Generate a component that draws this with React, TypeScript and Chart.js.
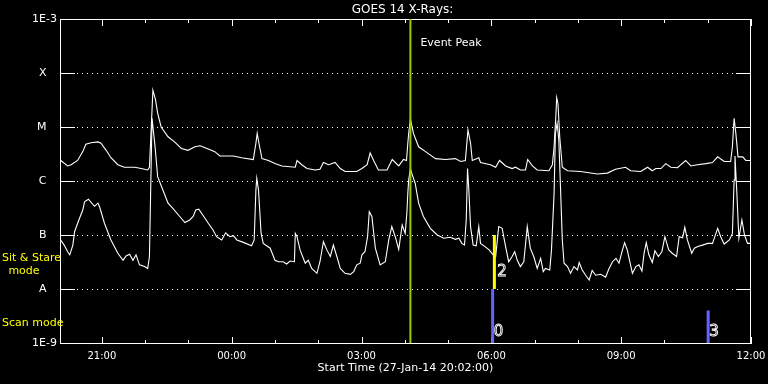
import React, { useEffect, useRef } from "react";
import { Chart, registerables } from "chart.js";

Chart.register(...registerables);

// ---- axes ----
const startHour = 20.0333; // 27-Jan-14 20:02:00 (hours from 27-Jan 00:00)
const endHour = 36.0; // 28-Jan 12:00
const xTickHours = [21, 24, 27, 30, 33, 36];
const xTickLabels = ["21:00", "00:00", "03:00", "06:00", "09:00", "12:00"];
const hourMarks = [21, 22, 23, 24, 25, 26, 27, 28, 29, 30, 31, 32, 33, 34, 35, 36];
const yTickValues = [1e-9, 1e-8, 1e-7, 1e-6, 1e-5, 1e-4, 1e-3];
const yTickLabels = ["1E-9", "A", "B", "C", "M", "X", "1E-3"];
const gridLevels = [1e-8, 1e-7, 1e-6, 1e-5, 1e-4];

// ---- GOES long channel (1-8 A) ----
const longTimes = [
  20.05, 20.21, 20.29, 20.44, 20.56, 20.63, 20.75, 20.91, 20.98, 21.10,
  21.21, 21.37, 21.52, 21.76, 21.91, 22.06, 22.10, 22.18, 22.24, 22.29,
  22.37, 22.53, 22.68, 22.80, 22.84, 22.99, 23.15, 23.27, 23.46, 23.61,
  23.73, 23.85, 24.04, 24.23, 24.50, 24.56, 24.59, 24.63, 24.70, 24.85,
  25.00, 25.16, 25.47, 25.51, 25.62, 25.74, 25.93, 26.04, 26.12, 26.24,
  26.39, 26.51, 26.62, 26.89, 27.01, 27.13, 27.20, 27.28, 27.39, 27.59,
  27.71, 27.86, 27.97, 28.04, 28.07, 28.09, 28.13, 28.20, 28.32, 28.48,
  28.71, 28.94, 29.17, 29.29, 29.40, 29.46, 29.52, 29.56, 29.71, 29.75,
  29.98, 30.10, 30.19, 30.33, 30.48, 30.56, 30.67, 30.79, 30.84, 30.95,
  31.06, 31.33, 31.41, 31.45, 31.49, 31.51, 31.54, 31.58, 31.64, 31.76,
  32.06, 32.45, 32.68, 32.87, 33.10, 33.22, 33.45, 33.61, 33.72, 33.80,
  33.92, 34.03, 34.15, 34.30, 34.49, 34.61, 34.76, 34.96, 35.11, 35.23,
  35.38, 35.53, 35.57, 35.61, 35.65, 35.70, 35.81, 35.88, 36.00,
];
const longFlux = [
  2.4e-6, 1.9e-6, 2.0e-6, 2.4e-6, 3.5e-6, 4.8e-6, 5.1e-6, 5.3e-6, 5.0e-6, 3.7e-6,
  2.7e-6, 2.0e-6, 1.8e-6, 1.8e-6, 1.7e-6, 1.6e-6, 1.8e-6, 4.8e-5, 3.2e-5, 1.8e-5,
  1.0e-5, 6.6e-6, 5.3e-6, 4.3e-6, 4.0e-6, 3.7e-6, 4.3e-6, 4.5e-6, 3.9e-6, 3.5e-6,
  2.9e-6, 2.9e-6, 2.9e-6, 2.7e-6, 2.5e-6, 5.0e-6, 7.6e-6, 5.0e-6, 2.6e-6, 2.4e-6,
  2.1e-6, 1.9e-6, 1.8e-6, 2.4e-6, 2.0e-6, 1.7e-6, 1.6e-6, 1.65e-6, 2.2e-6, 2.0e-6,
  2.2e-6, 1.7e-6, 1.5e-6, 1.5e-6, 1.7e-6, 2.0e-6, 3.3e-6, 2.4e-6, 1.6e-6, 1.6e-6,
  2.5e-6, 1.9e-6, 2.5e-6, 2.4e-6, 5.0e-6, 7.6e-6, 1.4e-5, 7.6e-6, 4.3e-6, 3.5e-6,
  2.6e-6, 2.5e-6, 2.6e-6, 2.3e-6, 2.4e-6, 8.8e-6, 5.0e-6, 2.4e-6, 2.7e-6, 2.2e-6,
  2.0e-6, 1.8e-6, 2.4e-6, 1.9e-6, 1.7e-6, 1.8e-6, 1.6e-6, 1.6e-6, 2.5e-6, 1.9e-6,
  1.6e-6, 1.55e-6, 2.0e-6, 4.3e-6, 1.55e-5, 3.5e-5, 2.7e-5, 6.6e-6, 1.8e-6, 1.55e-6,
  1.5e-6, 1.35e-6, 1.4e-6, 1.65e-6, 1.8e-6, 1.55e-6, 1.5e-6, 1.8e-6, 1.55e-6, 1.7e-6,
  1.7e-6, 2.1e-6, 1.8e-6, 1.76e-6, 2.4e-6, 1.9e-6, 2.0e-6, 2.1e-6, 2.2e-6, 2.8e-6,
  2.3e-6, 2.3e-6, 4.3e-6, 1.45e-5, 7.6e-6, 2.8e-6, 2.8e-6, 2.4e-6, 2.4e-6,
];

// ---- GOES short channel (0.5-4 A) ----
const shortTimes = [
  20.05, 20.13, 20.21, 20.26, 20.33, 20.37, 20.48, 20.56, 20.60, 20.69,
  20.83, 20.91, 20.95, 21.06, 21.21, 21.37, 21.49, 21.56, 21.64, 21.72,
  21.79, 21.87, 21.99, 22.06, 22.10, 22.16, 22.23, 22.29, 22.41, 22.53,
  22.64, 22.80, 22.92, 23.03, 23.11, 23.17, 23.24, 23.34, 23.46, 23.57,
  23.65, 23.77, 23.86, 23.96, 24.04, 24.12, 24.27, 24.46, 24.52, 24.56,
  24.58, 24.62, 24.68, 24.73, 24.89, 25.00, 25.08, 25.19, 25.27, 25.35,
  25.45, 25.47, 25.51, 25.58, 25.70, 25.77, 25.85, 25.97, 26.04, 26.12,
  26.20, 26.28, 26.35, 26.43, 26.51, 26.62, 26.74, 26.82, 26.89, 26.97,
  27.01, 27.08, 27.14, 27.18, 27.24, 27.32, 27.43, 27.55, 27.63, 27.70,
  27.78, 27.86, 27.94, 28.01, 28.05, 28.07, 28.09, 28.13, 28.16, 28.24,
  28.32, 28.43, 28.59, 28.75, 28.90, 29.05, 29.17, 29.25, 29.32, 29.38,
  29.42, 29.45, 29.48, 29.52, 29.58, 29.65, 29.71, 29.75, 29.83, 29.95,
  30.04, 30.10, 30.17, 30.25, 30.33, 30.40, 30.48, 30.54, 30.60, 30.67,
  30.75, 30.83, 30.90, 30.98, 31.06, 31.14, 31.20, 31.25, 31.35, 31.39,
  31.45, 31.48, 31.52, 31.56, 31.60, 31.64, 31.68, 31.76, 31.83, 31.91,
  31.99, 32.03, 32.10, 32.18, 32.26, 32.33, 32.41, 32.53, 32.64, 32.72,
  32.80, 32.88, 32.95, 33.03, 33.08, 33.14, 33.26, 33.34, 33.41, 33.48,
  33.53, 33.58, 33.64, 33.72, 33.78, 33.86, 33.94, 34.01, 34.10, 34.18,
  34.28, 34.34, 34.42, 34.47, 34.53, 34.63, 34.69, 34.77, 34.88, 35.00,
  35.11, 35.23, 35.30, 35.38, 35.50, 35.57, 35.61, 35.63, 35.67, 35.72,
  35.79, 35.85, 35.92, 36.00,
];
const shortFlux = [
  8.1e-8, 6.5e-8, 4.9e-8, 4.3e-8, 6.5e-8, 1.15e-7, 2.0e-7, 2.9e-7, 4.1e-7, 4.6e-7,
  3.4e-7, 3.9e-7, 3.3e-7, 1.65e-7, 8.1e-8, 4.6e-8, 3.4e-8, 4.1e-8, 4.4e-8, 3.4e-8,
  4.3e-8, 2.8e-8, 2.6e-8, 2.4e-8, 4.0e-8, 1.45e-5, 4.3e-6, 1.2e-6, 6.8e-7, 3.9e-7,
  3.1e-7, 2.2e-7, 1.7e-7, 1.9e-7, 2.2e-7, 2.9e-7, 3.0e-7, 2.3e-7, 1.65e-7, 1.24e-7,
  9.3e-8, 8.1e-8, 1.1e-7, 9.3e-8, 9.7e-8, 8.1e-8, 7.3e-8, 6.3e-8, 8.1e-8, 6.8e-7,
  1.12e-6, 6.8e-7, 1.07e-7, 7.0e-8, 5.7e-8, 3.4e-8, 3.2e-8, 3.2e-8, 2.9e-8, 3.3e-8,
  3.2e-8, 1.07e-7, 9.3e-8, 5.3e-8, 3.0e-8, 3.4e-8, 2.4e-8, 1.95e-8, 3.2e-8, 7.5e-8,
  5.3e-8, 4.0e-8, 6.5e-8, 4.0e-8, 2.4e-8, 1.95e-8, 1.87e-8, 2.1e-8, 2.8e-8, 3.0e-8,
  4.3e-8, 4.9e-8, 9.3e-8, 2.7e-7, 2.2e-7, 5.7e-8, 2.8e-8, 3.2e-8, 8.1e-8, 1.43e-7,
  9.3e-8, 5.4e-8, 1.53e-7, 1.07e-7, 2.7e-7, 5.9e-7, 1.04e-6, 1.7e-6, 1.4e-6, 9.1e-7,
  3.9e-7, 2.2e-7, 1.33e-7, 1.0e-7, 8.7e-8, 9.1e-8, 8.3e-8, 8.7e-8, 7.0e-8, 6.5e-8,
  1.9e-7, 1.7e-6, 6.8e-7, 1.43e-7, 6.5e-8, 6.3e-8, 1.43e-7, 7.0e-8, 6.3e-8, 5.3e-8,
  4.3e-8, 4.0e-8, 1.43e-7, 1.33e-7, 6.1e-8, 3.2e-8, 4.0e-8, 4.9e-8, 3.4e-8, 2.6e-8,
  3.2e-8, 1.43e-7, 5.7e-8, 4.0e-8, 2.4e-8, 3.7e-8, 2.1e-8, 2.4e-8, 2.25e-8, 5.3e-8,
  5.9e-7, 7.6e-6, 1.17e-5, 5.7e-6, 6.8e-7, 8.1e-8, 3.0e-8, 2.6e-8, 1.95e-8, 2.6e-8,
  2.25e-8, 3.1e-8, 2.25e-8, 1.8e-8, 1.47e-8, 2.2e-8, 1.8e-8, 1.87e-8, 1.65e-8, 2.4e-8,
  3.2e-8, 3.7e-8, 3.0e-8, 5.3e-8, 7.2e-8, 5.3e-8, 1.95e-8, 2.6e-8, 2.8e-8, 2.15e-8,
  4.6e-8, 7.2e-8, 4.3e-8, 3.1e-8, 5.1e-8, 4.0e-8, 4.9e-8, 9.3e-8, 5.3e-8, 4.6e-8,
  4.0e-8, 9.3e-8, 8.9e-8, 1.39e-7, 8.1e-8, 4.6e-8, 5.7e-8, 6.1e-8, 6.5e-8, 7.0e-8,
  7.0e-8, 1.33e-7, 9.3e-8, 6.8e-8, 8.1e-8, 1.07e-7, 1.04e-6, 2.9e-6, 6.8e-7, 8.7e-8,
  1.9e-7, 1.0e-7, 7.0e-8, 7.0e-8,
];

// ---- event & observation markers ----
const eventPeakTime = 28.13;
const stareTimes = [30.07];
const stareTop = [1e-7];
const stareBottom = [1e-8];
const stareLabels = ["2"];
const scanTimes = [30.03, 35.01];
const scanTop = [1e-8, 4e-9];
const scanBottom = [1e-9, 1e-9];
const scanLabels = ["0", "3"];

const FONT = "'DejaVu Sans', sans-serif";
const GREEN = "#9acd00";
const YELLOW = "#ffff00";
const BLUE = "#6464ff";

const zip = (xs: number[], ys: number[]) => xs.map((x, i) => ({ x, y: ys[i] }));

const decorPlugin = {
  id: "goesDecor",
  beforeDatasetsDraw(chart: any) {
    const { ctx, chartArea, scales } = chart;
    const { left, right, top, bottom } = chartArea;
    const xs = scales.x;
    const ys = scales.y;
    ctx.save();
    ctx.strokeStyle = "#ffffff";
    ctx.lineWidth = 1;
    // dotted grid
    ctx.setLineDash([1, 4]);
    for (const v of gridLevels) {
      const py = Math.round(ys.getPixelForValue(v)) + 0.5;
      ctx.beginPath();
      ctx.moveTo(left + 2, py);
      ctx.lineTo(right - 2, py);
      ctx.stroke();
    }
    ctx.setLineDash([]);
    // frame
    ctx.strokeRect(left + 0.5, top + 0.5, right - left - 1, bottom - top);
    // hour ticks (inward)
    ctx.beginPath();
    for (const h of hourMarks) {
      const px = Math.round(xs.getPixelForValue(h)) + 0.5;
      const len = xTickHours.includes(h) ? 7 : 4;
      ctx.moveTo(px, top);
      ctx.lineTo(px, top + len);
      ctx.moveTo(px, bottom + 1);
      ctx.lineTo(px, bottom + 1 - len);
    }
    // decade ticks (inward)
    for (const v of gridLevels) {
      const py = Math.round(ys.getPixelForValue(v)) + 0.5;
      ctx.moveTo(left, py);
      ctx.lineTo(left + 15, py);
      ctx.moveTo(right - 15, py);
      ctx.lineTo(right, py);
    }
    ctx.stroke();
    ctx.restore();
  },
  afterDatasetsDraw(chart: any) {
    const { ctx, chartArea, scales } = chart;
    const { left, right, top } = chartArea;
    const xs = scales.x;
    const ys = scales.y;
    ctx.save();
    ctx.textBaseline = "middle";
    // title
    ctx.fillStyle = "#ffffff";
    ctx.font = `12px ${FONT}`;
    ctx.textAlign = "center";
    ctx.fillText("GOES 14 X-Rays:", (left + right) / 2 - 3, 10);
    // event peak label
    ctx.font = `11px ${FONT}`;
    ctx.textAlign = "left";
    ctx.fillText("Event Peak", xs.getPixelForValue(eventPeakTime) + 10, top + 24);
    // mode labels
    ctx.fillStyle = YELLOW;
    ctx.fillText("Sit & Stare", 2, ys.getPixelForValue(1e-8) - 31);
    ctx.textAlign = "center";
    ctx.fillText("mode", 24, ys.getPixelForValue(1e-8) - 18);
    ctx.textAlign = "left";
    ctx.fillText("Scan mode", 2, ys.getPixelForValue(1e-9) - 20);
    // marker numbers (outlined digits)
    ctx.strokeStyle = "#ffffff";
    ctx.lineWidth = 0.9;
    ctx.font = `15px ${FONT}`;
    stareLabels.forEach((t, i) => {
      ctx.strokeText(t, xs.getPixelForValue(stareTimes[i]) + 3, ys.getPixelForValue(stareBottom[i]) - 17);
    });
    scanLabels.forEach((t, i) => {
      ctx.strokeText(t, xs.getPixelForValue(scanTimes[i]) + 1, ys.getPixelForValue(scanBottom[i]) - 11);
    });
    ctx.restore();
  },
};

export default function App() {
  const canvasRef = useRef<HTMLCanvasElement | null>(null);

  useEffect(() => {
    document.body.style.margin = "0";
    document.body.style.background = "#000";
    const canvas = canvasRef.current;
    if (!canvas) return;

    const lineBase = { pointRadius: 0, tension: 0, fill: false, borderJoinStyle: "miter" as const };

    const datasets: any[] = [
      {
        label: "Event Peak",
        data: [
          { x: eventPeakTime, y: 1e-3 },
          { x: eventPeakTime, y: 1e-9 },
        ],
        borderColor: GREEN,
        borderWidth: 2,
        ...lineBase,
      },
      ...stareTimes.map((t, i) => ({
        label: "Sit & Stare " + stareLabels[i],
        data: [
          { x: t, y: stareTop[i] },
          { x: t, y: stareBottom[i] },
        ],
        borderColor: YELLOW,
        borderWidth: 3,
        ...lineBase,
      })),
      ...scanTimes.map((t, i) => ({
        label: "Scan " + scanLabels[i],
        data: [
          { x: t, y: scanTop[i] },
          { x: t, y: scanBottom[i] },
        ],
        borderColor: BLUE,
        borderWidth: 3,
        ...lineBase,
      })),
      {
        label: "1-8 A",
        data: zip(longTimes, longFlux),
        borderColor: "#ffffff",
        borderWidth: 1.1,
        ...lineBase,
      },
      {
        label: "0.5-4 A",
        data: zip(shortTimes, shortFlux),
        borderColor: "#ffffff",
        borderWidth: 1.1,
        ...lineBase,
      },
    ];

    const chart = new Chart(canvas, {
      type: "line",
      data: { datasets },
      plugins: [decorPlugin],
      options: {
        responsive: false,
        animation: false,
        events: [],
        layout: { padding: { top: 19, right: 17, left: 0, bottom: 0 } },
        plugins: {
          legend: { display: false },
          tooltip: { enabled: false },
          title: { display: false },
        },
        scales: {
          x: {
            type: "linear",
            min: startHour,
            max: endHour,
            grid: { display: false, drawTicks: false },
            border: { display: false },
            afterBuildTicks: (s: any) => {
              s.ticks = xTickHours.map((v) => ({ value: v }));
            },
            afterFit: (s: any) => {
              s.height = 41;
              s.paddingLeft = 0;
              s.paddingRight = 0;
            },
            ticks: {
              color: "#ffffff",
              font: { family: FONT, size: 10 },
              padding: 7,
              maxRotation: 0,
              autoSkip: false,
              callback: (_v: any, i: number) => xTickLabels[i],
            },
            title: {
              display: true,
              text: "Start Time (27-Jan-14 20:02:00)",
              color: "#ffffff",
              font: { family: FONT, size: 11 },
              padding: { top: 0, bottom: 9 },
            },
          },
          y: {
            type: "logarithmic",
            min: 1e-9,
            max: 1e-3,
            grid: { display: false, drawTicks: false },
            border: { display: false },
            afterBuildTicks: (s: any) => {
              s.ticks = yTickValues.map((v) => ({ value: v }));
            },
            afterFit: (s: any) => {
              s.width = 60;
            },
            ticks: {
              color: "#ffffff",
              font: { family: FONT, size: 11 },
              padding: 3,
              autoSkip: false,
              callback: (_v: any, i: number) => {
                const t = yTickLabels[i];
                return t.length === 1 ? t + "   " : t;
              },
            },
          },
        },
      },
    });

    return () => chart.destroy();
  }, []);

  return (
    <div style={{ width: 768, height: 384, background: "#000", position: "relative" }}>
      <canvas ref={canvasRef} width={768} height={384} style={{ display: "block" }} />
    </div>
  );
}
